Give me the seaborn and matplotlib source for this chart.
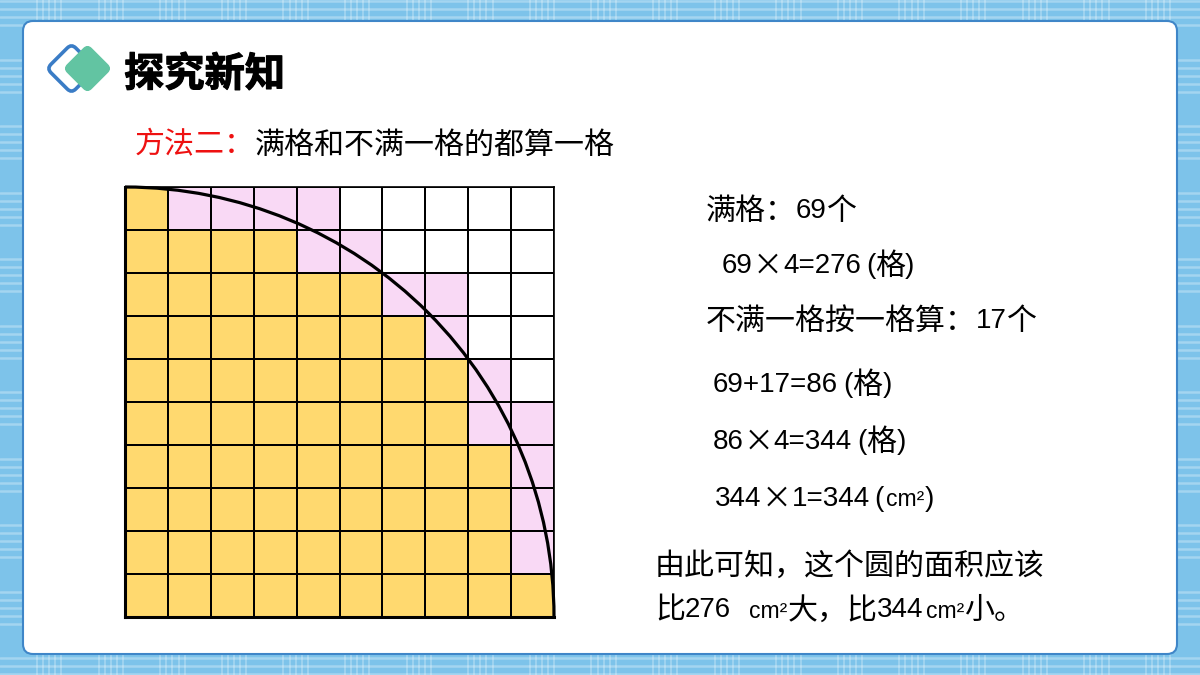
import re
import numpy as np
import seaborn as sns
import matplotlib.pyplot as plt
import matplotlib.patheffects as pe
from matplotlib.colors import ListedColormap
from matplotlib.patches import Arc, FancyBboxPatch
from matplotlib.transforms import Affine2D

sns.set_theme(style="white")
plt.rcParams['font.family'] = ['Noto Sans CJK SC', 'DejaVu Sans']

# cells per row, top to bottom
yellow_cells = [1, 4, 6, 7, 8, 8, 9, 9, 9, 10]
pink_cells = [4, 2, 2, 1, 1, 2, 1, 1, 1, 0]

title = "探究新知"
method_label = "方法二："
method_text = "满格和不满一格的都算一格"
note_lines = [
    "满格：69个",
    "69×4=276(格)",
    "不满一格按一格算：17个",
    "69+17=86(格)",
    "86×4=344(格)",
    "344×1=344(cm²)",
    "由此可知，这个圆的面积应该",
    "比276 cm²大，比344cm²小。",
]

W, H = 1200, 675
BG = "#7dc3ea"
fig = plt.figure(figsize=(W / 100, H / 100), dpi=100, facecolor=BG)

# page in pixel coords
page = fig.add_axes([0, 0, 1, 1])
page.set_xlim(0, W)
page.set_ylim(H, 0)
page.axis("off")

# plaid stripes behind the card
for start in np.arange(37, W, 61.6):
    for k in range(5):
        page.axvline(start + k * 6.1, color="white", lw=1.3, alpha=0.28)
for start in np.arange(-7, H, 66.5):
    for k in range(5):
        page.axhline(start + k * 8, color="white", lw=1.8, alpha=0.3)

card = FancyBboxPatch((23, 21), 1154, 633, boxstyle="round,pad=0,rounding_size=10",
                      fc="white", ec="#3f86c8", lw=1.5, zorder=3)
page.add_patch(card)


def diamond(cx, cy, half, **kw):
    box = FancyBboxPatch((cx - half, cy - half), 2 * half, 2 * half,
                         boxstyle="round,pad=0,rounding_size=6", zorder=4, **kw)
    box.set_transform(Affine2D().rotate_deg_around(cx, cy, 45) + page.transData)
    page.add_patch(box)


diamond(71.5, 68.5, 17.5, fc="white", ec="#3a7cc6", lw=2.6)
diamond(87.5, 68.5, 17.5, fc="#62c4a2", ec="none")

page.text(124, 75, title, fontsize=29, fontweight="bold", color="black", va="center", zorder=5,
          path_effects=[pe.withStroke(linewidth=0.8, foreground="black")])
page.text(135, 145, method_label, fontsize=21.6, color="#ee1111", va="center", zorder=5)
page.text(255, 145, method_text, fontsize=21.6, color="black", va="center", zorder=5)

renderer = fig.canvas.get_renderer()
CJK = ['Noto Sans CJK SC', 'DejaVu Sans']


def mixed_text(x, y, text):
    # latin runs are narrower than the CJK ones in the slide font
    for run in re.findall(r"cm²|\(|(?:(?!cm²)[ -'*-~)])+|[^ -~²]+", text):
        if run == "cm²":
            t = page.text(x + 2, y + 1, run, fontsize=16.5, va="center", family="Liberation Sans",
                          color="black", zorder=5)
        elif ord(run[0]) < 256 and run[0] != "×":
            x += 5 if run == "(" else 0
            t = page.text(x, y, run.rstrip(), fontsize=20, va="center",
                          family="Liberation Sans", color="black", zorder=5)
        else:
            t = page.text(x, y, run, fontsize=21.6, va="center", family=CJK, color="black", zorder=5)
        x = t.get_window_extent(renderer).x1
        if run.endswith(" "):
            x += 16


note_x = [706, 722, 706, 713, 713, 715, 655, 655]
note_y = [211, 266, 321, 385, 442, 499, 566, 610]
for text, x, y in zip(note_lines, note_x, note_y):
    mixed_text(x, y, text)

# grid: 0 white, 1 pink, 2 yellow
cells = np.zeros((10, 10))
for i, (yellow, pink) in enumerate(zip(yellow_cells, pink_cells)):
    cells[i, :yellow] = 2
    cells[i, yellow:yellow + pink] = 1

ax = fig.add_axes([125 / W, (H - 617) / H, 429 / W, 430 / H], zorder=6)
sns.heatmap(cells, ax=ax, cmap=ListedColormap(["white", "#f9d9f5", "#ffd96f"]), vmin=0, vmax=2,
            cbar=False, linewidths=1.3, linecolor="black", xticklabels=False, yticklabels=False)
for side, spine in ax.spines.items():
    spine.set_visible(True)
    spine.set_color("black")
    spine.set_linewidth(2.2 if side in ("left", "bottom") else 1.2)

# quarter circle, centre at the bottom left corner of the grid
ax.add_patch(Arc((0, 10), 20, 20, theta1=-90, theta2=0, color="black", lw=2.3, clip_on=False))

fig.savefig("out.png", dpi=100, facecolor=BG)
